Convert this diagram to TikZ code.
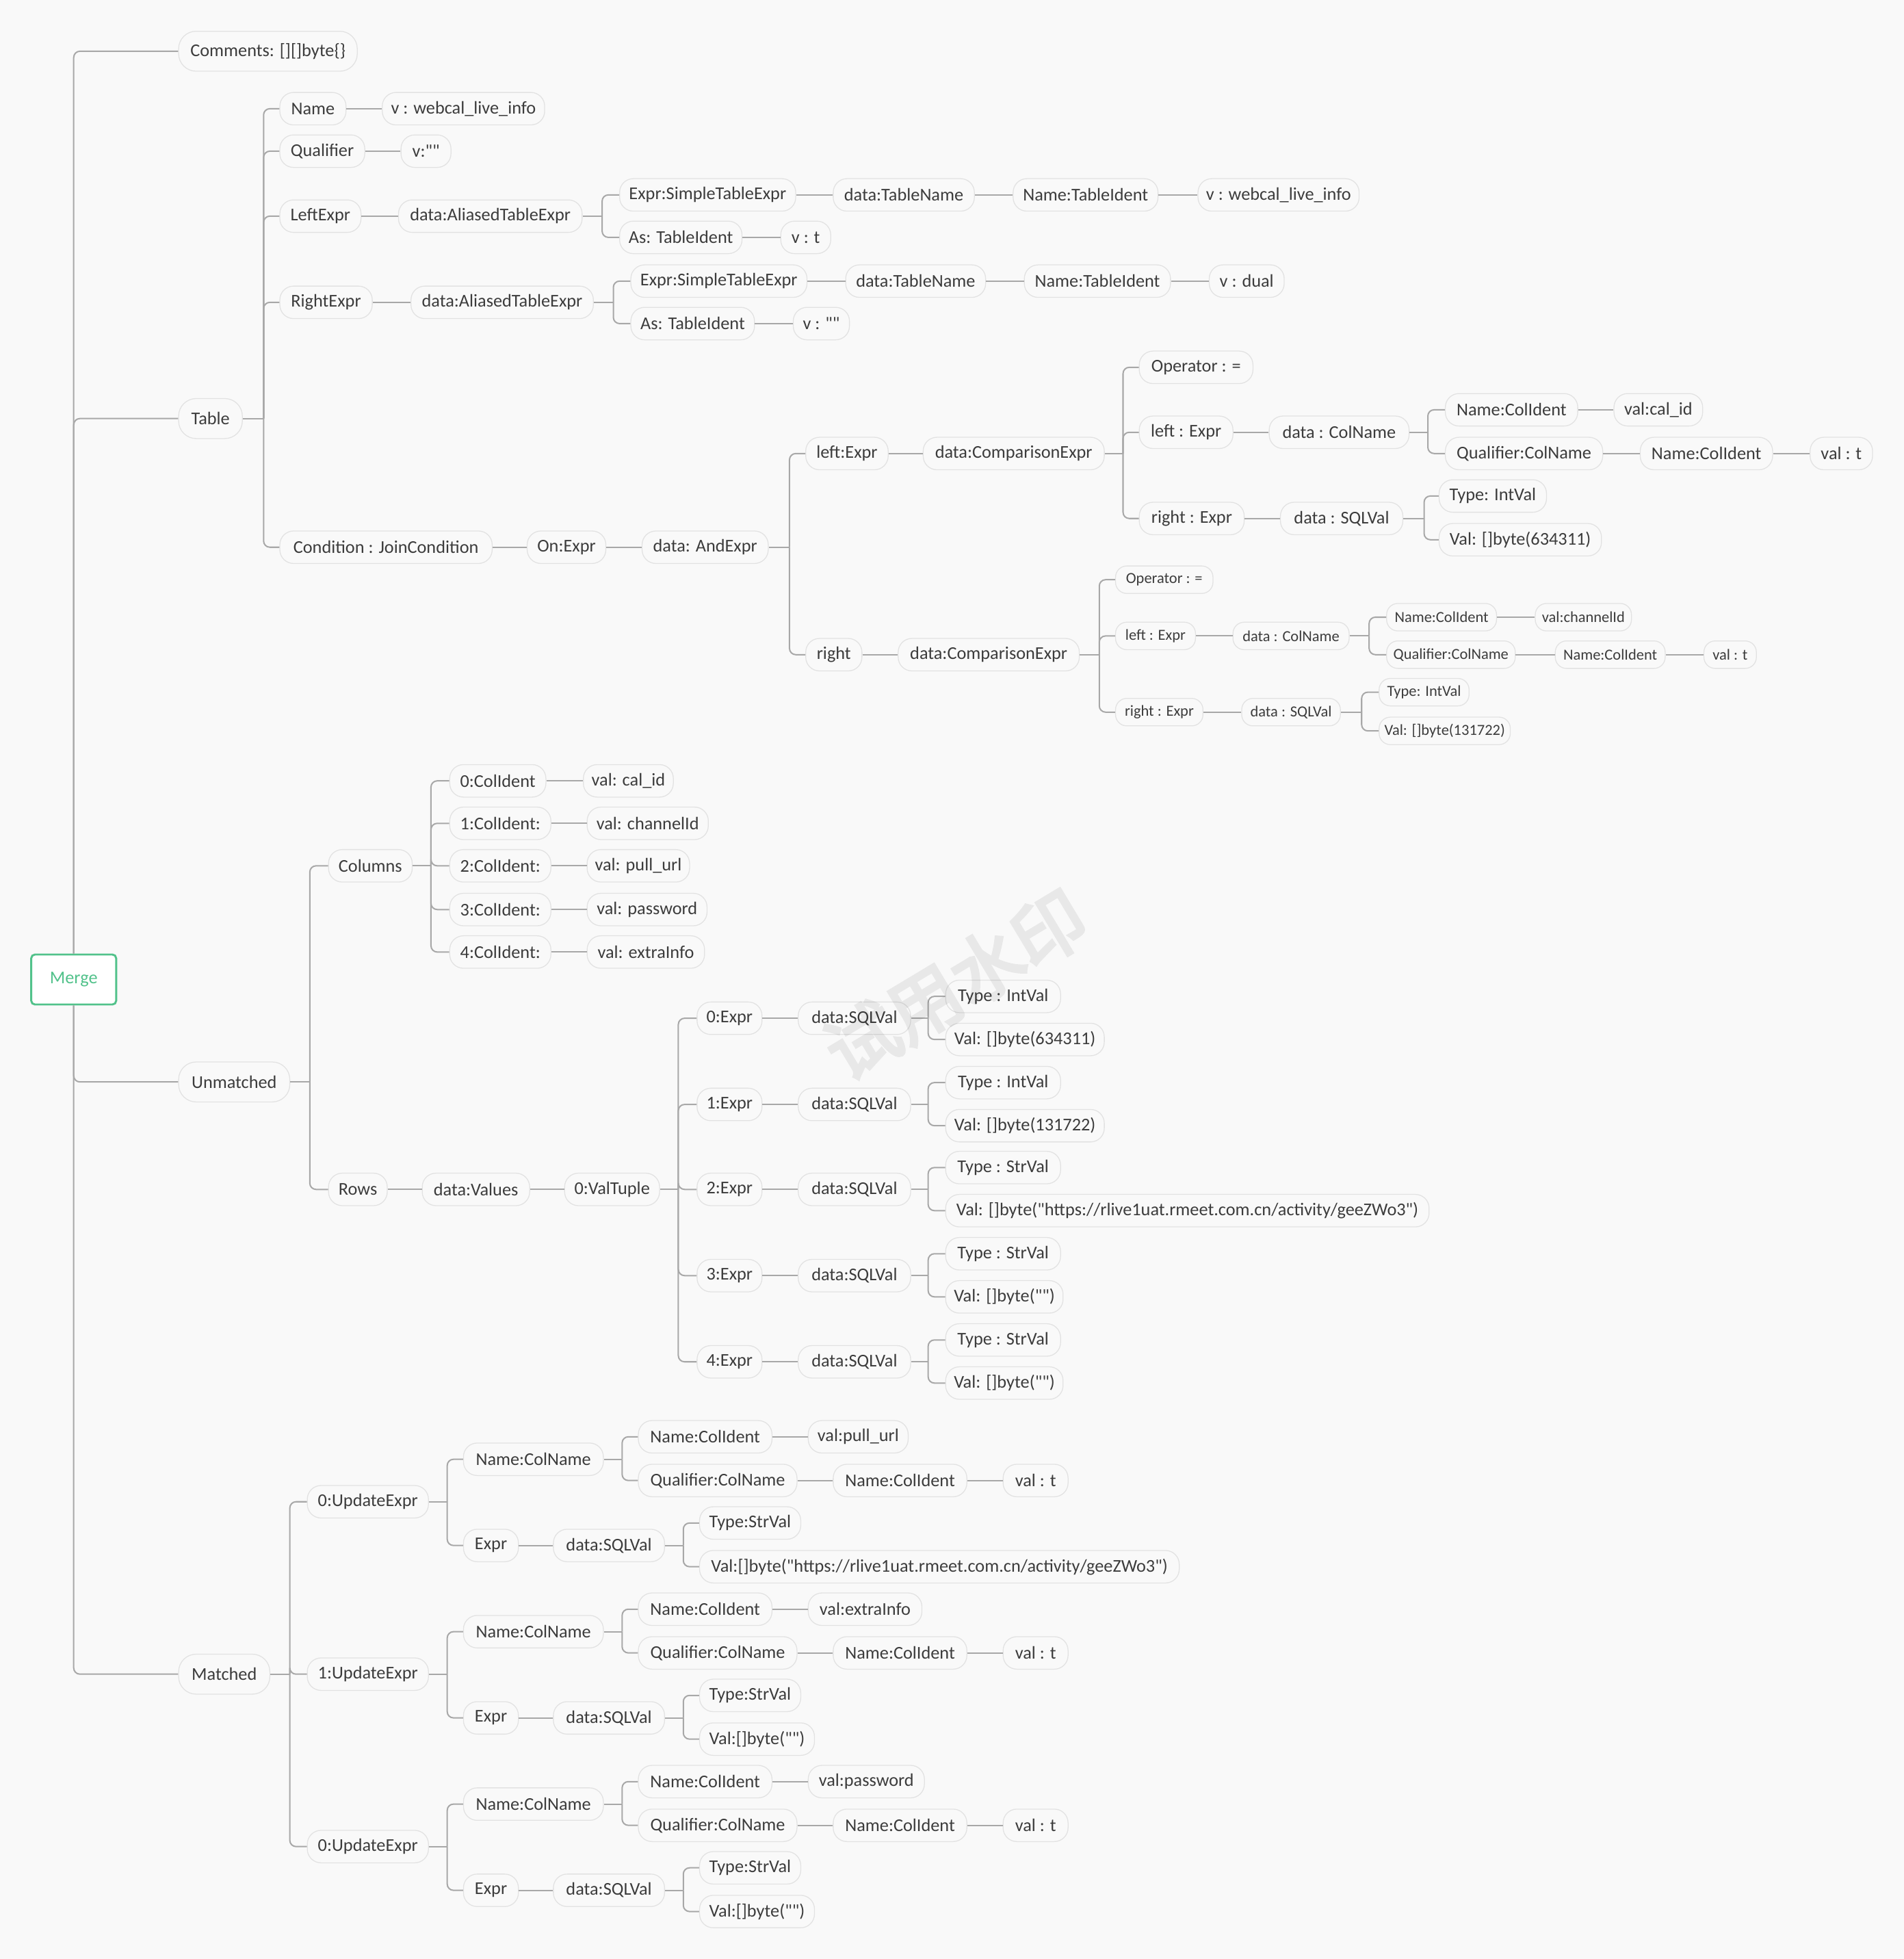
\documentclass[tikz,border=0pt]{standalone}
\usepackage{fontspec}
\setmainfont{Carlito}[Ligatures=TeXOff]
\newfontfamily\cjk[FakeBold=4]{Noto Sans CJK SC}
\usetikzlibrary{calc}

\definecolor{bg}{HTML}{F9F9F9}
\definecolor{rim}{HTML}{E2E2E2}
\definecolor{ink}{HTML}{3C3C3C}
\definecolor{wirecol}{HTML}{A8A8A8}
\definecolor{mint}{HTML}{52C28B}

\tikzset{
  box/.style={draw=rim, line width=0.7pt, fill=bg, rounded corners=11pt,
    minimum height=26pt, inner xsep=3pt, inner ysep=0pt, text=ink,
    font=\fontsize{14.4}{16}\selectfont},
  topbox/.style={box, minimum height=32pt, rounded corners=14pt},
  smallbox/.style={box, minimum height=22pt, rounded corners=9pt,
    font=\fontsize{12.3}{14}\selectfont},
  rootbox/.style={draw=mint, line width=1.6pt, fill=white, rounded corners=3pt,
    text=mint, minimum width=68pt, minimum height=40pt, inner sep=0pt,
    font=\fontsize{14.4}{16}\selectfont},
  wire/.style={draw=wirecol, line width=1.1pt},
  elbow/.style={wire, rounded corners=5pt},
}

% node from left edge #3 to right edge #4, centred on row #5
\newcommand\nd[6][box]{\node[#1, minimum width={(#4-#3)*1pt}] (#2) at ({(#3+#4)/2},{#5}) {#6};}
% straight connector
\newcommand\link[2]{\draw[wire] (#1.east) -- (#2.west);}
% parent #1 splits at bus x=#2 into the children listed in #3
\newcommand\fork[3]{%
  \path (#2,0) coordinate (bus);
  \draw[wire] (#1.east) -- (#1.east -| bus);
  \foreach \kid in {#3} {\draw[elbow] (#1.east -| bus) |- (\kid.west);}
}
% one UpdateExpr block: prefix, row, label, name value, its right edge, SQL value, its right edge
\newcommand\upd[7]{%
  \nd{#1}{246}{343}{#2}{#3}
  \nd{#1n}{371}{483}{#2-34}{Name:ColName}
  \nd{#1ni}{511}{618}{#2-52}{Name:ColIdent}
  \nd{#1niv}{647}{#5}{#2-52}{#4}
  \nd{#1q}{511}{638}{#2-17}{Qualifier:ColName}
  \nd{#1qn}{667}{774}{#2-17}{Name:ColIdent}
  \nd{#1qv}{803}{855}{#2-17}{val : t}
  \nd{#1e}{371}{415}{#2+35}{Expr}
  \nd{#1ed}{443}{532}{#2+35}{data:SQLVal}
  \nd{#1et}{560}{641}{#2+17}{Type:StrVal}
  \nd{#1ev}{560}{#7}{#2+52}{#6}
  \fork{#1}{358}{#1n,#1e}
  \fork{#1n}{498}{#1ni,#1q}
  \link{#1ni}{#1niv}
  \link{#1q}{#1qn}
  \link{#1qn}{#1qv}
  \link{#1e}{#1ed}
  \fork{#1ed}{547}{#1et,#1ev}
}
% one value expression under the tuple: prefix, row, label, type, value, its right edge
\newcommand\rowexpr[6]{%
  \nd{#1}{558}{610}{#2}{#3}
  \nd{#1d}{639}{729}{#2}{data:SQLVal}
  \nd{#1t}{757}{849}{#2-17.5}{#4}
  \nd{#1v}{757}{#6}{#2+17}{#5}
  \link{#1}{#1d}
  \fork{#1d}{743}{#1t,#1v}
}

\begin{document}
\begin{tikzpicture}[x=1pt, y=-1pt]
\fill[bg] (0,0) rectangle (1524,1568);
\useasboundingbox (0,0) rectangle (1524,1568);

% root and first level
\node[rootbox] (merge) at (59,784) {Merge};
\nd[topbox]{comments}{143}{286}{41}{Comments: [][]byte\{\}}
\nd[topbox]{table}{143}{194}{335}{Table}
\nd[topbox]{unmatched}{143}{232}{866}{Unmatched}
\nd[topbox]{matched}{143}{216}{1340}{Matched}
\foreach \kid in {comments,table} {\draw[elbow] (merge.north) |- (\kid.west);}
\foreach \kid in {unmatched,matched} {\draw[elbow] (merge.south) |- (\kid.west);}

% Table
\nd{tname}{224}{277}{87}{Name}
\nd{tnamev}{306}{436}{87}{v : webcal\_live\_info}
\nd{tqual}{224}{292}{121}{Qualifier}
\nd{tqualv}{321}{361}{121}{v:""}
\nd{tleft}{224}{289}{173}{LeftExpr}
\nd{tleftd}{319}{466}{173}{data:AliasedTableExpr}
\nd{tlexpr}{496}{637}{156}{Expr:SimpleTableExpr}
\nd{tltn}{667}{780}{156}{data:TableName}
\nd{tlti}{811}{927}{156}{Name:TableIdent}
\nd{tltv}{959}{1088}{156}{v : webcal\_live\_info}
\nd{tlas}{496}{594}{190}{As: TableIdent}
\nd{tlasv}{625}{665}{190}{v : t}
\nd{tright}{224}{298}{242}{RightExpr}
\nd{trightd}{329}{475}{242}{data:AliasedTableExpr}
\nd{trexpr}{505}{646}{225}{Expr:SimpleTableExpr}
\nd{trtn}{677}{789}{225}{data:TableName}
\nd{trti}{820}{937}{225}{Name:TableIdent}
\nd{trtv}{968}{1028}{225}{v : dual}
\nd{tras}{505}{604}{259}{As: TableIdent}
\nd{trasv}{635}{680}{259}{v : ""}
\nd{tcond}{224}{394}{438}{Condition : JoinCondition}
\nd{ton}{422}{485}{438}{On:Expr}
\nd{tand}{514}{615}{438}{data: AndExpr}

\fork{table}{211}{tname,tqual,tleft,tright,tcond}
\link{tname}{tnamev}
\link{tqual}{tqualv}
\link{tleft}{tleftd}
\fork{tleftd}{482}{tlexpr,tlas}
\link{tlexpr}{tltn}
\link{tltn}{tlti}
\link{tlti}{tltv}
\link{tlas}{tlasv}
\link{tright}{trightd}
\fork{trightd}{491}{trexpr,tras}
\link{trexpr}{trtn}
\link{trtn}{trti}
\link{trti}{trtv}
\link{tras}{trasv}
\link{tcond}{ton}
\link{ton}{tand}

% join condition, left side
\nd{al}{645}{711}{363}{left:Expr}
\nd{alc}{739}{884}{363}{data:ComparisonExpr}
\nd{alop}{912}{1003}{294}{Operator : =}
\nd{all}{912}{987}{346}{left : Expr}
\nd{allc}{1016}{1128}{346}{data : ColName}
\nd{alln}{1157}{1263}{328}{Name:ColIdent}
\nd{allnv}{1292}{1363}{328}{val:cal\_id}
\nd{allq}{1157}{1283}{363}{Qualifier:ColName}
\nd{allqn}{1313}{1419}{363}{Name:ColIdent}
\nd{allqv}{1449}{1499}{363}{val : t}
\nd{alr}{912}{996}{415}{right : Expr}
\nd{alrd}{1025}{1123}{415}{data : SQLVal}
\nd{alrt}{1152}{1238}{397}{Type: IntVal}
\nd{alrv}{1152}{1282}{432}{Val: []byte(634311)}

% join condition, right side
\nd{ar}{645}{690}{524}{right}
\nd{arc}{719}{864}{524}{data:ComparisonExpr}
\nd[smallbox]{arop}{893}{971}{464}{Operator : =}
\nd[smallbox]{arl}{893}{957}{509}{left : Expr}
\nd[smallbox]{arlc}{987}{1080}{509}{data : ColName}
\nd[smallbox]{arln}{1110}{1198}{494}{Name:ColIdent}
\nd[smallbox]{arlnv}{1229}{1306}{494}{val:channelId}
\nd[smallbox]{arlq}{1110}{1213}{524}{Qualifier:ColName}
\nd[smallbox]{arlqn}{1245}{1333}{524}{Name:ColIdent}
\nd[smallbox]{arlqv}{1364}{1406}{524}{val : t}
\nd[smallbox]{arr}{893}{963}{570}{right : Expr}
\nd[smallbox]{arrd}{994}{1073}{570}{data : SQLVal}
\nd[smallbox]{arrt}{1104}{1176}{554}{Type: IntVal}
\nd[smallbox]{arrv}{1104}{1209}{585}{Val: []byte(131722)}

\fork{tand}{632}{al,ar}
\link{al}{alc}
\fork{alc}{899}{alop,all,alr}
\link{all}{allc}
\fork{allc}{1143}{alln,allq}
\link{alln}{allnv}
\link{allq}{allqn}
\link{allqn}{allqv}
\link{alr}{alrd}
\fork{alrd}{1140}{alrt,alrv}
\link{ar}{arc}
\fork{arc}{880}{arop,arl,arr}
\link{arl}{arlc}
\fork{arlc}{1096}{arln,arlq}
\link{arln}{arlnv}
\link{arlq}{arlqn}
\link{arlqn}{arlqv}
\link{arr}{arrd}
\fork{arrd}{1090}{arrt,arrv}

% Unmatched: columns
\nd{cols}{263}{330}{693}{Columns}
\nd{c0}{360}{437}{625}{0:ColIdent}
\nd{c0v}{467}{539}{625}{val: cal\_id}
\nd{c1}{360}{441}{659}{1:ColIdent:}
\nd{c1v}{470}{567}{659}{val: channelId}
\nd{c2}{360}{441}{693}{2:ColIdent:}
\nd{c2v}{470}{552}{693}{val: pull\_url}
\nd{c3}{360}{441}{728}{3:ColIdent:}
\nd{c3v}{470}{566}{728}{val: password}
\nd{c4}{360}{441}{762}{4:ColIdent:}
\nd{c4v}{470}{564}{762}{val: extraInfo}
\fork{cols}{345}{c0,c1,c2,c3,c4}
\foreach \kid in {c0,c1,c2,c3,c4} {\link{\kid}{\kid v}}

% Unmatched: rows
\nd{rows}{263}{310}{952}{Rows}
\nd{vals}{338}{424}{952}{data:Values}
\nd{tup}{452}{528}{952}{0:ValTuple}
\fork{unmatched}{248}{cols,rows}
\link{rows}{vals}
\link{vals}{tup}
\rowexpr{ea}{815}{0:Expr}{Type : IntVal}{Val: []byte(634311)}{884}
\rowexpr{eb}{884}{1:Expr}{Type : IntVal}{Val: []byte(131722)}{884}
\rowexpr{ec}{952}{2:Expr}{Type : StrVal}{Val: []byte("https://rlive1uat.rmeet.com.cn/activity/geeZWo3")}{1144}
\rowexpr{ed}{1021}{3:Expr}{Type : StrVal}{Val: []byte("")}{851}
\rowexpr{ee}{1090}{4:Expr}{Type : StrVal}{Val: []byte("")}{851}
\fork{tup}{543}{ea,eb,ec,ed,ee}

% Matched
\upd{ua}{1202}{0:UpdateExpr}{val:pull\_url}{727}{Val:[]byte("https://rlive1uat.rmeet.com.cn/activity/geeZWo3")}{944}
\upd{ub}{1340}{1:UpdateExpr}{val:extraInfo}{738}{Val:[]byte("")}{652}
\upd{uc}{1478}{0:UpdateExpr}{val:password}{740}{Val:[]byte("")}{652}
\fork{matched}{232}{ua,ub,uc}

% faint stamp laid over the middle of the tree
\begin{scope}[transparency group, opacity=0.065]
\node[rotate=31, text=black, inner sep=0pt,
      font=\cjk\fontsize{58}{60}\selectfont] (stamp) at (765,788) {试用水印};
\end{scope}
\end{tikzpicture}
\end{document}
